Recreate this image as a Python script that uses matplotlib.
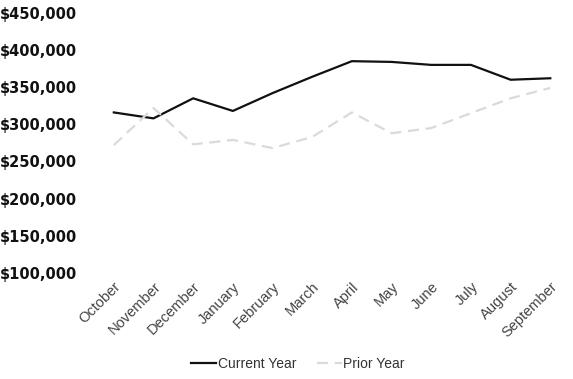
import matplotlib
matplotlib.use("Agg")
from matplotlib import pyplot as plt
from matplotlib.ticker import FuncFormatter

months = ['October', 'November', 'December', 'January', 'February', 'March',
          'April', 'May', 'June', 'July', 'August', 'September']
current_year = [316000, 308000, 335000, 318000, 342000, 364000,
                385000, 384000, 380000, 380000, 360000, 362000]
prior_year = [272000, 322000, 273000, 279000, 268000, 283000,
              316000, 288000, 295000, 315000, 335000, 349000]

fig = plt.figure(figsize=(5.73, 3.79), dpi=100)
ax = fig.add_axes([0.164, 0.28, 0.831, 0.686])

x = range(len(months))
ax.plot(x, current_year, color='#111111', lw=1.6, label='Current Year')
ax.plot(x, prior_year, color='#dadada', lw=1.6, ls=(0, (5, 3)), label='Prior Year')

ax.set_xlim(-0.5, 11.5)
ax.set_ylim(100000, 450000)
ax.set_yticks(range(100000, 450001, 50000))
ax.yaxis.set_major_formatter(FuncFormatter(lambda v, p: '${:,.0f}'.format(v)))
ax.set_xticks(list(x))
ax.set_xticklabels(months, rotation=45, ha='right', rotation_mode='anchor',
                   color='#444444', fontsize=10.5, family='Liberation Sans')
for lab in ax.get_yticklabels():
    lab.set_fontweight('bold')
    lab.set_fontsize(10.5)
    lab.set_color('#111111')
ax.tick_params(length=0, pad=5)
ax.tick_params(axis='y', pad=12)
for s in ax.spines.values():
    s.set_visible(False)

leg = fig.legend(loc='center', bbox_to_anchor=(0.52, 0.04), ncol=2, frameon=False,
                 prop={'family': 'Liberation Sans', 'size': 10},
                 handlelength=1.8, handletextpad=0.1, columnspacing=1.5)
for t in leg.get_texts():
    t.set_color('#333333')

fig.savefig('out.png', dpi=100)
